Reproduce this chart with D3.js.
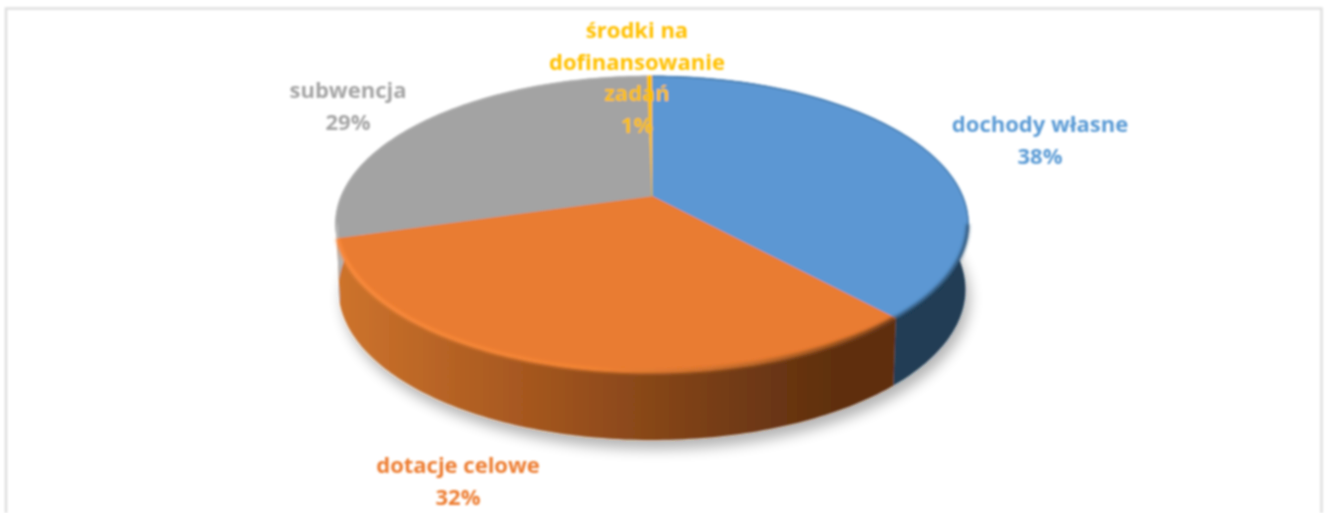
<!DOCTYPE html>
<html><head><meta charset="utf-8">
<script src="https://cdn.jsdelivr.net/npm/d3@7/dist/d3.min.js"></script>
<style>html,body{margin:0;background:#fff}svg{display:block}</style></head>
<body><svg id="c" width="1327" height="513"></svg>
<script>
const categories = ["dochody własne","dotacje celowe","subwencja","środki na dofinansowanie zadań"];
const values = [38.2,32.3,29.2,0.3];
const percentLabels = ["38%","32%","29%","1%"];
const topColors = ["#5b97d3","#e97b30","#a3a3a3","#ffc000"];
const labelColors = ["#5b9bd5","#ed7d31","#a5a5a5","#ffc000"];
const labelLines = [["dochody własne","38%"],["dotacje celowe","32%"],["subwencja","29%"],["środki na","dofinansowanie","zadań","1%"]];
const labelAnchorX = [1040,458,348,637];
const labelFirstBaseline = [132,473,98,38];

const svg=d3.select("#c"), defs=svg.append("defs");
const cx=652, cy=196, R=311, c=-0.188, b=106, depth=68;
const proj=t=>{const u=Math.sin(t),v=-Math.cos(t),w=1+c*v;return [cx+R*u/w,(cy+b*v)/w];};
const low=t=>{const p=proj(t),v=-Math.cos(t);return [cx+(p[0]-cx)*0.99,p[1]+depth-(1-v)*3];};
const line=d3.line();
const arcPts=(a0,a1,f)=>d3.range(0,121).map(i=>f(a0+(a1-a0)*i/120));

const blur=(id,s)=>defs.append("filter").attr("id",id).attr("x","-20%").attr("y","-20%").attr("width","140%").attr("height","140%")
  .append("feGaussianBlur").attr("stdDeviation",s);
blur("soft",0.8);blur("shadow",7);blur("rim",1.6);blur("thin",0.6);

const g1=defs.append("linearGradient").attr("id","oSide").attr("gradientUnits","userSpaceOnUse")
  .attr("x1",340).attr("x2",892).attr("y1",0).attr("y2",0);
[[0,"#cd732c"],[0.35,"#a4561f"],[0.7,"#743c15"],[0.9,"#5f2f0f"],[1,"#5f2f0f"]].forEach(s=>g1.append("stop").attr("offset",s[0]).attr("stop-color",s[1]));
const g2=defs.append("linearGradient").attr("id","oRim").attr("gradientUnits","userSpaceOnUse")
  .attr("x1",340).attr("x2",892).attr("y1",0).attr("y2",0);
[[0,"#fb8b3c"],[0.45,"#f58535"],[0.75,"#b9662a"],[1,"#6a3814"]].forEach(s=>g2.append("stop").attr("offset",s[0]).attr("stop-color",s[1]));

const root=svg.append("g").attr("filter","url(#soft)");
root.append("path").attr("d","M6 513V8.5H1321.5V513").attr("fill","none").attr("stroke","#dfdfdf").attr("stroke-width",2.5);

const pie=d3.pie().sort(null).startAngle(0).endAngle(2*Math.PI);
const slices=pie(values);
const sideFill=["#203c54","url(#oSide)","#b4b4b4","#b38600"];
const rimFront=["#2c4f70","url(#oRim)","#bdbdbd","#ffc000"];
const rimBack=["#4a7aa8","#e97b30","#b0b0b0","#ffc000"];

const whole=arcPts(0,2*Math.PI,low);
root.append("path").attr("d",line(whole)+"Z").attr("transform","translate(4,9)")
  .attr("fill","#000").attr("opacity",0.3).attr("filter","url(#shadow)");

slices.forEach((s,i)=>{
  const a=arcPts(s.startAngle,s.endAngle,proj), l=arcPts(s.startAngle,s.endAngle,low).reverse();
  root.append("path").attr("d",line(a.concat(l))+"Z").attr("fill",sideFill[i]);
});
const apex=[cx,cy];
slices.forEach((s,i)=>{
  const a=arcPts(s.startAngle,s.endAngle,proj);
  root.append("path").attr("d",line([apex].concat(a))+"Z").attr("fill",topColors[i]).attr("stroke",topColors[i]).attr("stroke-width",0.4);
});
// bevel: a heavy soft edge on the front half, a hairline on the back half
const frontLimit=Math.PI/2+0.19;
slices.forEach((s,i)=>{
  const inset=t=>{const p=proj(t);return [cx+(p[0]-cx)*0.997,cy+(p[1]-cy)*0.995+0.5];};
  const f0=Math.max(s.startAngle,frontLimit), f1=Math.min(s.endAngle,2*Math.PI-frontLimit);
  root.append("path").attr("d",line(arcPts(s.startAngle,s.endAngle,inset))).attr("fill","none")
    .attr("stroke",rimBack[i]).attr("stroke-width",1).attr("filter","url(#thin)");
  if(f1>f0) root.append("path").attr("d",line(arcPts(f0,f1,inset))).attr("fill","none")
    .attr("stroke",rimFront[i]).attr("stroke-width",i===1?4:3).attr("filter","url(#rim)");
});

labelLines.forEach((ls,i)=>{
  const t=root.append("text").attr("text-anchor","middle").attr("fill",labelColors[i])
    .attr("font-family","'Open Sans','Noto Sans',sans-serif").attr("font-weight",700).attr("font-size",22);
  ls.forEach((s,j)=>t.append("tspan").attr("x",labelAnchorX[i]).attr("y",labelFirstBaseline[i]+j*31.7).text(s));
});
</script></body></html>
